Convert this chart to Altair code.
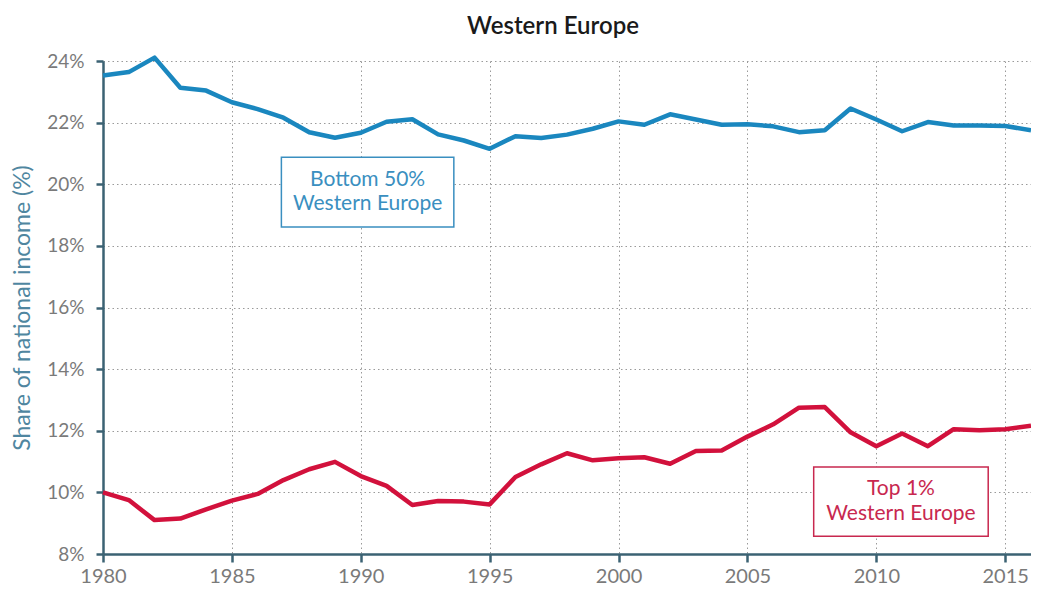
import altair as alt
import pandas as pd

years = list(range(1980, 2017))
bottom50 = [23.53, 23.64, 24.11, 23.13, 23.04, 22.66, 22.44, 22.16, 21.69, 21.51,
            21.67, 22.03, 22.11, 21.62, 21.42, 21.15, 21.56, 21.50, 21.61, 21.80,
            22.04, 21.93, 22.27, 22.10, 21.93, 21.95, 21.88, 21.69, 21.75, 22.46,
            22.10, 21.72, 22.02, 21.91, 21.91, 21.89, 21.75]
top1 = [10.00, 9.75, 9.10, 9.15, 9.45, 9.73, 9.95, 10.40, 10.75, 10.99,
        10.53, 10.21, 9.59, 9.72, 9.70, 9.61, 10.50, 10.91, 11.27, 11.04,
        11.11, 11.14, 10.93, 11.34, 11.36, 11.81, 12.21, 12.75, 12.77, 11.95,
        11.50, 11.91, 11.50, 12.05, 12.02, 12.05, 12.16]

series_names = ["Bottom 50%", "Top 1%"]
series_colors = ["#1a87bf", "#d2113c"]
text_colors = ["#3a8fc0", "#c8284f"]

# annotation boxes (data units)
box_x1 = [1986.92, 2007.57]
box_x2 = [1993.61, 2014.34]
box_y1 = [20.88, 10.82]
box_y2 = [18.61, 8.58]
label_line1 = ["Bottom 50%", "Top 1%"]
label_line2 = ["Western Europe", "Western Europe"]

y_ticks = list(range(8, 25, 2))
x_ticks = list(range(1980, 2016, 5))

rows = []
for i, y in enumerate(years):
    rows.append({"year": y, "value": bottom50[i], "series": series_names[0]})
    rows.append({"year": y, "value": top1[i], "series": series_names[1]})
df = pd.DataFrame(rows)

boxes = pd.DataFrame({
    "series": series_names,
    "x1": box_x1, "x2": box_x2, "y1": box_y1, "y2": box_y2,
    "l1": label_line1, "l2": label_line2,
})
boxes["xc"] = (boxes["x1"] + boxes["x2"]) / 2
boxes["ytop"] = (boxes["y1"] + boxes["y2"]) / 2 + 0.40
boxes["ybot"] = (boxes["y1"] + boxes["y2"]) / 2 - 0.40

xscale = alt.Scale(domain=[1980, 2016], nice=False, zero=False)
yscale = alt.Scale(domain=[8, 24], nice=False, zero=False)
color_scale = alt.Scale(domain=series_names, range=series_colors)
text_scale = alt.Scale(domain=series_names, range=text_colors)

axis_col = "#3b6273"

x_axis = alt.Axis(values=x_ticks, format="d", title=None, grid=True,
                  gridDash=[1.5, 3], gridColor="#9a9a9a", gridWidth=1,
                  domainColor=axis_col, domainWidth=2.5, tickColor=axis_col,
                  tickWidth=2.5, tickSize=8, labelFlush=False,
                  labelFont="Lato", labelFontSize=20, labelColor="#7a7a7a",
                  labelPadding=4)
y_axis = alt.Axis(values=y_ticks, labelExpr="datum.value + '%'",
                  title="Share of national income (%)", grid=True,
                  gridDash=[1.5, 3], gridColor="#9a9a9a", gridWidth=1,
                  domainColor=axis_col, domainWidth=2.5, tickColor=axis_col,
                  tickWidth=2.5, tickSize=7, labelFlush=False,
                  labelFont="Lato", labelFontSize=19, labelColor="#7a7a7a",
                  labelPadding=12, titleFont="Lato", titleFontSize=23,
                  titleFontWeight="normal", titleColor="#4f86a0",
                  titlePadding=12)

lines = alt.Chart(df).mark_line(strokeWidth=4.5, strokeJoin="round").encode(
    x=alt.X("year:Q", scale=xscale, axis=x_axis),
    y=alt.Y("value:Q", scale=yscale, axis=y_axis),
    color=alt.Color("series:N", scale=color_scale, legend=None),
)

rects = alt.Chart(boxes).mark_rect(fill="white", strokeWidth=1.5).encode(
    x=alt.X("x1:Q", scale=xscale),
    x2="x2:Q",
    y=alt.Y("y1:Q", scale=yscale),
    y2="y2:Q",
    stroke=alt.Stroke("series:N", scale=text_scale, legend=None),
)

t1 = alt.Chart(boxes).mark_text(font="Lato", fontSize=21, baseline="middle").encode(
    x=alt.X("xc:Q", scale=xscale),
    y=alt.Y("ytop:Q", scale=yscale),
    text="l1:N",
    color=alt.Color("series:N", scale=text_scale, legend=None),
)
t2 = alt.Chart(boxes).mark_text(font="Lato", fontSize=21, baseline="middle").encode(
    x=alt.X("xc:Q", scale=xscale),
    y=alt.Y("ybot:Q", scale=yscale),
    text="l2:N",
    color=alt.Color("series:N", scale=text_scale, legend=None),
)

chart = alt.layer(lines, rects, t1, t2).resolve_scale(color="independent").properties(
    width=928,
    height=493,
    title=alt.TitleParams("Western Europe", font="Lato", fontSize=24,
                          fontWeight=600, color="#1a1a1a", anchor="middle",
                          dx=-14, offset=13),
    autosize=alt.AutoSizeParams(type="none"),
    padding={"left": 95, "top": 53, "right": 0, "bottom": 35},
).configure_view(stroke=None)

chart.save("out.html", embed_options={"renderer": "svg", "actions": False})
